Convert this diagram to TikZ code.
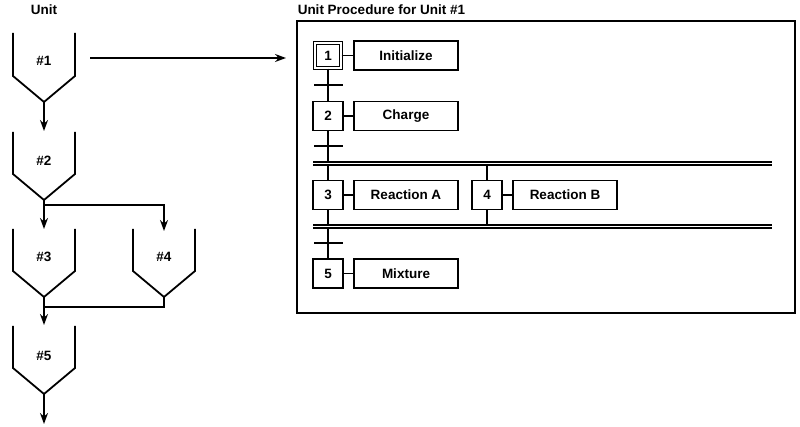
\documentclass[tikz,border=0pt]{standalone}
\usepackage{fontspec}
\setmainfont{Liberation Sans}
\usetikzlibrary{arrows.meta}
\usetikzlibrary{positioning}

\begin{document}
\begin{tikzpicture}[x=1pt,y=-1pt,->,>={Stealth[length=11pt,width=8pt]},line width=1.5pt,
    font=\fontsize{13.5}{15}\selectfont\bfseries,
    label node/.style={inner sep=0pt},
    stage node/.style={draw,line width=1.5pt,minimum width=30pt,minimum height=29pt,inner sep=0pt},
    action node/.style={draw,line width=1.5pt,minimum width=104pt,minimum height=29pt,inner sep=0pt},
    bar node/.style={fill=black,minimum width=29pt,minimum height=1.6pt,inner sep=0pt},
    hopper/.style={-,line width=1.8pt,line join=miter},
    split line/.style={-,line width=1.2pt,double,double distance=1.8pt}]
   \useasboundingbox (0,0) rectangle (800,427);
   \begin{scope}
     % units
     \node[label node] (unit) at (44,10) {Unit};
     \draw[hopper] (13,33) -- (13,76) -- (44,102) -- (75,76) -- (75,33);
     \draw[hopper] (13,132) -- (13,174) -- (44,200) -- (75,174) -- (75,132);
     \draw[hopper] (13,229) -- (13,271) -- (44,297) -- (75,271) -- (75,229);
     \draw[hopper] (133,229) -- (133,271) -- (164,297) -- (195,271) -- (195,229);
     \draw[hopper] (13,326) -- (13,368) -- (44,394) -- (75,368) -- (75,326);
      \node[label node] (u1) at (44,61) {\#1};
      \node[label node] (u2) at (44,161) {\#2};
      \node[label node] (u3) at (44,257) {\#3};
      \node[label node] (u4) at (164,257) {\#4};
      \node[label node] (u5) at (44,356) {\#5};
      \coordinate (top2) at (44,131);
      \coordinate (top3) at (44,229);
      \coordinate (top4) at (164,231);
      \coordinate (top5) at (44,325);
      \coordinate (bot1) at (44,102);
      \coordinate (bot2) at (44,200);
      \coordinate (bot3) at (44,297);
      \coordinate (bot4) at (164,297);
      \coordinate (bot5) at (44,394);
      \coordinate (split) at (44,205);
      \coordinate (join) at (44,307);
      \coordinate (out) at (44,424);
      \coordinate (u1out) at (90,58);
      \coordinate (procin) at (286,58);
       \path (bot1) edge (top2);
       \path (bot2) edge (top3);
       \path[-] (bot2) edge (split);
       \draw (split) -| (top4);
       \draw[-] (bot4) |- (join);
       \path (bot3) edge (top5);
       \path (bot5) edge (out);
       \path (u1out) edge (procin);
   \end{scope}
   \begin{scope}
     % unit procedure
     \node[label node,anchor=west] (title) at (297,10) {Unit Procedure for Unit \#1};
     \node[draw,line width=1.8pt,minimum width=498pt,minimum height=292pt,inner sep=0pt] (proc) at (546,167) {};
      \node[stage node,double,double distance=2pt,line width=1.2pt,minimum width=26pt,minimum height=25pt] (s1) at (328,55.5) {1};
      \node[action node] (a1) at (406,55.5) {Initialize};
      \node[stage node] (s2) at (328,116) {2};
      \node[action node] (a2) at (406,116) {Charge};
      \node[stage node] (s3) at (328,195) {3};
      \node[action node] (a3) at (406,195) {Reaction A};
      \node[stage node] (s4) at (487,195) {4};
      \node[action node] (a4) at (565,195) {Reaction B};
      \node[stage node] (s5) at (328,273.5) {5};
      \node[action node] (a5) at (406,273.5) {Mixture};
      \node[bar node] (t1) at (328,85) {};
      \node[bar node] (t2) at (328,146) {};
      \node[bar node] (t3) at (328,243) {};
      \coordinate (d1a) at (313,163.5);
      \coordinate (d1b) at (772,163.5);
      \coordinate (d2a) at (313,226.5);
      \coordinate (d2b) at (772,226.5);
      \coordinate (d1s4) at (487,163.5);
      \coordinate (d2s4) at (487,226.5);
       \path[-,line width=1.3pt] (s1) edge (a1);
       \path[-,line width=1.3pt] (s2) edge (a2);
       \path[-,line width=1.3pt] (s3) edge (a3);
       \path[-,line width=1.3pt] (s4) edge (a4);
       \path[-,line width=1.3pt] (s5) edge (a5);
       \path[-,line width=1.3pt] (s1) edge (s2);
       \path[-,line width=1.3pt] (s2) edge (s3);
       \path[-,line width=1.3pt] (s3) edge (s5);
       \path[-,line width=1.3pt] (d1s4) edge (s4);
       \path[-,line width=1.3pt] (s4) edge (d2s4);
       \draw[split line] (d1a) -- (d1b);
       \draw[split line] (d2a) -- (d2b);
   \end{scope}
\end{tikzpicture}
\end{document}
